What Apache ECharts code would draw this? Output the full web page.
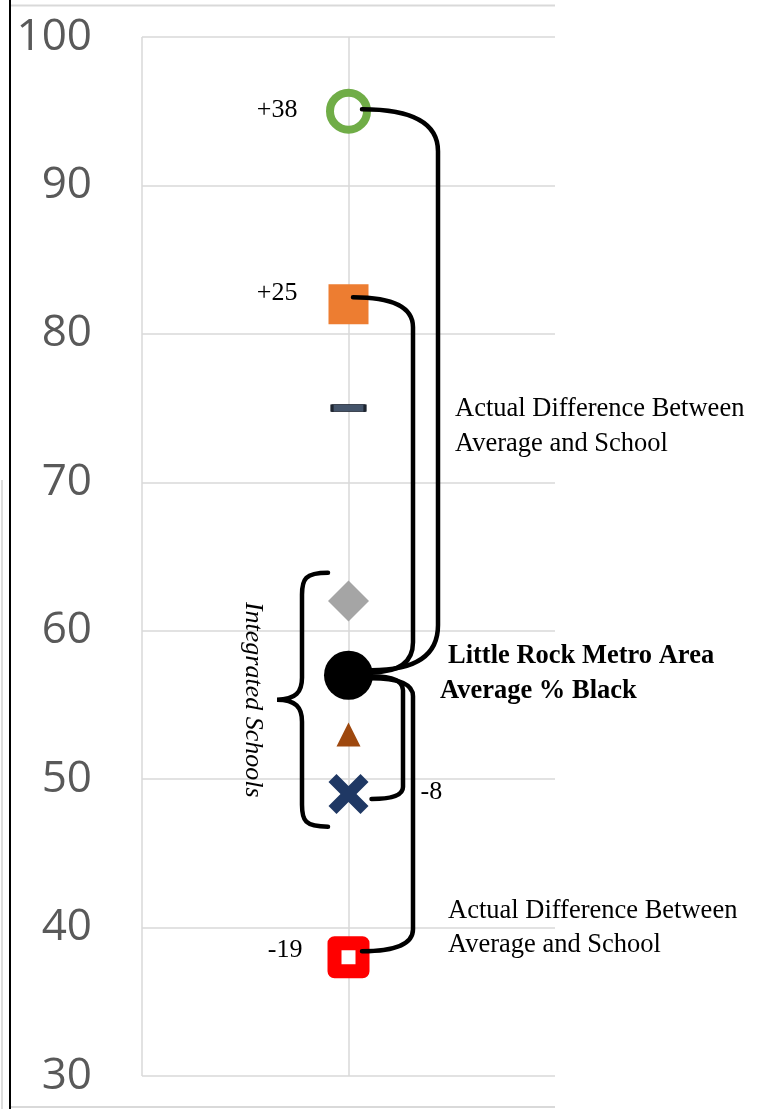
<!DOCTYPE html>
<html><head><meta charset="utf-8">
<script src="https://cdn.jsdelivr.net/npm/echarts@6/dist/echarts.min.js"></script>
<style>html,body{margin:0;padding:0;background:#fff}#c{width:764px;height:1109px}</style>
</head><body><div id="c"></div>
<script>
// ---------- data ----------
const yTickValues = [30, 40, 50, 60, 70, 80, 90, 100];
const schoolNames = ['School 1', 'School 2', 'School 3', 'School 4', 'School 5', 'School 6', 'School 7'];
const schoolValues = [95, 82, 75, 62, 53, 49, 38];
const averageName = 'Little Rock Metro Area Average % Black';
const averageValue = 57;
const connectedValues = [95, 82, 49, 38];
const integratedValues = [62, 53, 49];
const annotationTop = ['Actual Difference Between', 'Average and School'];
const annotationBottom = ['Actual Difference Between', 'Average and School'];
const averageLabel = ['Little Rock Metro Area', 'Average % Black'];
const braceLabel = 'Integrated Schools';

// ---------- styles ----------
const xPath = 'path://M4,0 L10,6 L16,0 L20,4 L14,10 L20,16 L16,20 L10,14 L4,20 L0,16 L6,10 L0,4 Z';
const markerStyles = [
  { symbol: 'circle', size: 37, color: 'rgba(0,0,0,0)', border: '#70AD47', bw: 8 },
  { symbol: 'rect', size: 40, color: '#ED7D31' },
  { symbol: 'rect', size: [33, 7], color: '#44546A', border: '#1E2530', bw: 1.5 },
  { symbol: 'diamond', size: 41, color: '#A5A5A5' },
  { symbol: 'triangle', size: 24, color: '#9E480E' },
  { symbol: xPath, size: 40, color: '#1F3864' },
  { symbol: 'rect', size: 28, color: '#FFFFFF', border: '#FF0000', bw: 14 }
];
const diffLabelPlacement = [
  { position: 'left', distance: 51, offset: [0, -1] },
  { position: 'left', distance: 51, offset: [0, -11] },
  { position: 'right', distance: 72, offset: [0, -2] },
  { position: 'left', distance: 46, offset: [0, -7] }
];
const connectorShape = [
  { off: 89.5, sDx: 13.5, sDy: -2, rS: 42, aDx: 23, aDy: -5, rA: 45 },
  { off: 64.5, sDx: 4.5, sDy: -7, rS: 30, aDx: 23, aDy: -3, rA: 30 },
  { off: 54.5, sDx: 23, sDy: 5, rS: 12, aDx: 23, aDy: 1, rA: 14 },
  { off: 64.5, sDx: 13.5, sDy: -6, rS: 22, aDx: 23, aDy: 3, rA: 18 }
];
const serif = '"Liberation Serif", "Times New Roman", serif';

const chart = echarts.init(document.getElementById('c'), null, { renderer: 'canvas', width: 764, height: 1109 });

const schoolData = schoolValues.map((v, i) => {
  const s = markerStyles[i];
  return {
    name: schoolNames[i],
    value: [1, v],
    symbol: s.symbol,
    symbolSize: s.size,
    itemStyle: { color: s.color, borderColor: s.border || s.color, borderWidth: s.bw || 0, borderJoin: 'round', opacity: 1 }
  };
});

const labelData = connectedValues.map((v, i) => {
  const d = v - averageValue;
  const p = diffLabelPlacement[i];
  return {
    value: [1, v],
    label: { show: true, position: p.position, distance: p.distance, offset: p.offset, color: '#000',
      formatter: (d > 0 ? '+' : '') + d }
  };
});

function textEl(x, y, text, font, rotation) {
  return { type: 'text', x: x, y: y, rotation: rotation || 0, silent: true,
    style: { text: text, font: font, fill: '#000', textAlign: 'left', align: 'left', textVerticalAlign: 'middle', verticalAlign: 'middle' } };
}

const option = {
  animation: false,
  backgroundColor: '#fff',
  grid: { left: 142, top: 37, right: 209, bottom: 33, containLabel: false },
  xAxis: {
    type: 'value', min: 0, max: 2, interval: 1,
    axisLine: { show: false }, axisTick: { show: false }, axisLabel: { show: false },
    splitLine: { show: true, lineStyle: { color: ['#D9D9D9', '#D9D9D9', 'rgba(0,0,0,0)'], width: 1.5 } }
  },
  yAxis: {
    type: 'value', min: yTickValues[0], max: yTickValues[yTickValues.length - 1], interval: 10,
    axisLine: { show: false }, axisTick: { show: false },
    axisLabel: { show: true, fontSize: 44, color: '#595959', fontFamily: '"Open Sans", sans-serif', margin: 50,
      formatter: v => (yTickValues.indexOf(v) >= 0 ? String(v) : '') },
    splitLine: { show: true, lineStyle: { color: '#D9D9D9', width: 1.5 } }
  },
  graphic: [
    { type: 'line', silent: true, shape: { x1: 10, y1: 5.5, x2: 555, y2: 5.5 }, style: { stroke: '#D9D9D9', lineWidth: 2 } },
    { type: 'line', silent: true, shape: { x1: 10, y1: 1107, x2: 555, y2: 1107 }, style: { stroke: '#D9D9D9', lineWidth: 2 } },
    { type: 'line', silent: true, shape: { x1: 10, y1: 0, x2: 10, y2: 1109 }, style: { stroke: '#000', lineWidth: 2 } },
    { type: 'line', silent: true, shape: { x1: 2, y1: 480, x2: 2, y2: 1109 }, style: { stroke: '#D0D0D0', lineWidth: 1.5 } },
    textEl(455, 409, annotationTop[0], '26.5px ' + serif),
    textEl(455, 444, annotationTop[1], '26.5px ' + serif),
    textEl(448, 911, annotationBottom[0], '26.5px ' + serif),
    textEl(448, 945, annotationBottom[1], '26.5px ' + serif),
    textEl(448, 656, averageLabel[0], 'bold 26.5px ' + serif),
    textEl(440, 691, averageLabel[1], 'bold 26.5px ' + serif)
  ],
  series: [
    {
      name: 'Schools', type: 'scatter', z: 3, data: schoolData, itemStyle: { opacity: 1 }
    },
    {
      name: averageName, type: 'scatter', z: 3, symbol: 'circle', symbolSize: 49,
      itemStyle: { color: '#000', opacity: 1 }, data: [[1, averageValue]]
    },
    {
      name: 'Connectors', type: 'custom', z: 5, clip: false, silent: true,
      data: connectedValues.map(v => [1, v, averageValue]),
      renderItem: function (params, api) {
        const c = connectorShape[params.dataIndex];
        const ps = api.coord([api.value(0), api.value(1)]);
        const pa = api.coord([api.value(0), api.value(2)]);
        const cx = ps[0];
        const dir = pa[1] > ps[1] ? 1 : -1;
        const sx = cx + c.sDx, sy = ps[1] + c.sDy;
        const ex = cx + c.aDx, ey = pa[1] + c.aDy;
        const vx = cx + c.off;
        const d = 'M' + sx + ',' + sy + ' Q' + vx + ',' + sy + ' ' + vx + ',' + (sy + dir * c.rS) +
          ' L' + vx + ',' + (ey - dir * c.rA) + ' Q' + vx + ',' + ey + ' ' + ex + ',' + ey;
        return { type: 'path', shape: { pathData: d }, style: { stroke: '#000', lineWidth: 4.5, fill: 'none', lineCap: 'round', lineJoin: 'round' } };
      }
    },
    {
      name: 'Brace', type: 'custom', z: 5, clip: false, silent: true,
      data: [[1, Math.max.apply(null, integratedValues), Math.min.apply(null, integratedValues)]],
      renderItem: function (params, api) {
        const pt = api.coord([1, api.value(1) + 1.9]);
        const pb = api.coord([1, api.value(2) - 2.2]);
        const cx = pt[0];
        const top = pt[1], bot = pb[1], mid = (top + bot) / 2;
        const xe = cx - 20.5, xb = cx - 46.5, xt = cx - 71.5;
        const d = 'M' + xe + ',' + top + ' C' + (xb + 3) + ',' + top + ' ' + xb + ',' + (top + 6) + ' ' + xb + ',' + (top + 22) +
          ' L' + xb + ',' + (mid - 22) + ' C' + xb + ',' + (mid - 8) + ' ' + (xb - 6) + ',' + mid + ' ' + xt + ',' + mid +
          ' C' + (xb - 6) + ',' + mid + ' ' + xb + ',' + (mid + 8) + ' ' + xb + ',' + (mid + 22) +
          ' L' + xb + ',' + (bot - 22) + ' C' + xb + ',' + (bot - 6) + ' ' + (xb + 3) + ',' + bot + ' ' + xe + ',' + bot;
        return {
          type: 'group', children: [
            { type: 'path', shape: { pathData: d }, style: { stroke: '#000', lineWidth: 4.5, fill: 'none', lineCap: 'round' } },
            { type: 'text', x: cx - 95.5, y: mid, rotation: -Math.PI / 2,
              style: { text: braceLabel, font: 'italic 26px ' + serif, fill: '#000', align: 'center', verticalAlign: 'middle' } }
          ]
        };
      }
    },
    {
      name: 'Differences', type: 'scatter', z: 6, symbolSize: 0, silent: true,
      itemStyle: { opacity: 1 },
      label: { color: '#000', fontSize: 26, fontFamily: serif },
      data: labelData
    }
  ]
};
chart.setOption(option);
</script></body></html>
